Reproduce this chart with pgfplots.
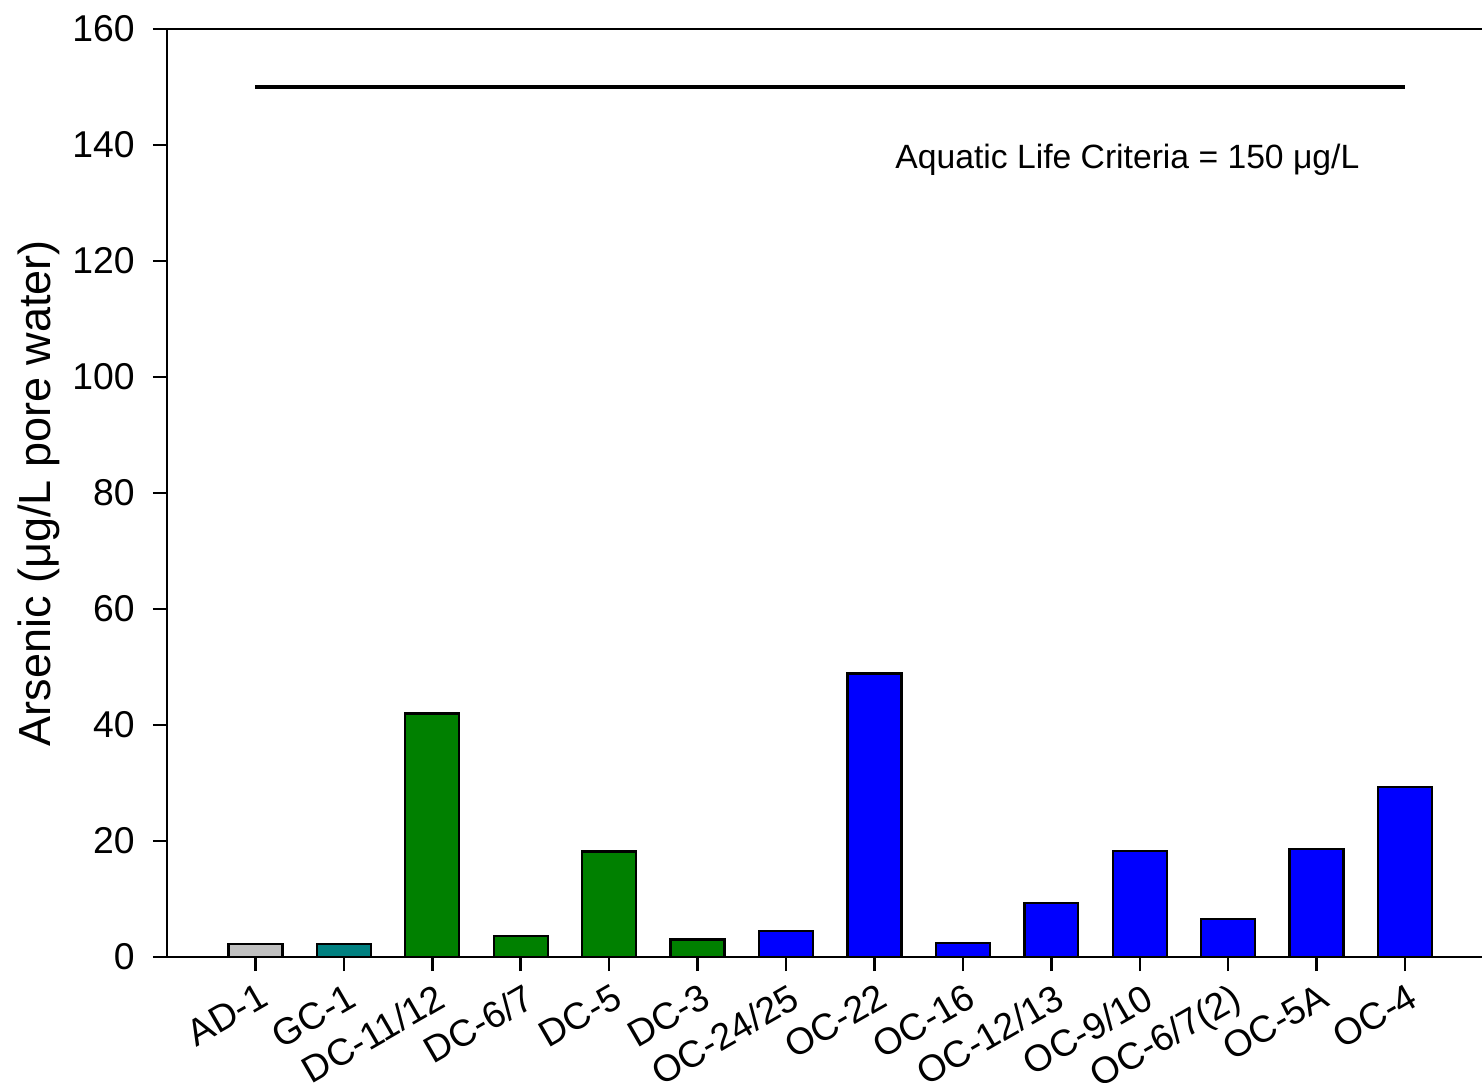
\documentclass[border=0pt]{standalone}
\usepackage{fontspec}
\setmainfont{Liberation Sans}
\usepackage{pgfplots}
\pgfplotsset{compat=1.18}
\definecolor{cgray}{HTML}{C0C0C0}
\definecolor{cteal}{HTML}{008080}
\definecolor{cgreen}{HTML}{008000}
\definecolor{cblue}{HTML}{0000FF}
\begin{document}
\begin{tikzpicture}
\begin{axis}[
  name=ax,
  scale only axis,
  width=394.5pt, height=278.4pt,
  xmin=-1, xmax=13.87,
  ymin=0, ymax=160,
  axis x line*=bottom,
  axis y line*=left,
  axis line style={line width=0.75pt},
  ytick={0,20,...,160},
  xtick={0,...,13},
  xticklabels={AD-1,GC-1,DC-11/12,DC-6/7,DC-5,DC-3,OC-24/25,OC-22,OC-16,OC-12/13,OC-9/10,OC-6/7(2),OC-5A,OC-4},
  tick align=outside,
  major tick length=4.2pt,
  tick style={line width=0.75pt, black},
  /pgf/number format/assume math mode=true,
  ticklabel style={font=\fontsize{11.2}{13}\selectfont},
  x tick label style={rotate=30, anchor=north east, inner sep=1pt, yshift=-2pt},
  y tick label style={xshift=-2pt},
  ylabel={Arsenic (μg/L pore water)},
  ylabel style={font=\fontsize{13.5}{15}\selectfont, yshift=-3pt},
  ybar, bar width=0.61, bar shift=0pt,
  clip=false,
]
\addplot[fill=cgray, draw=black, line width=0.7pt] coordinates {(0,2.3)};
\addplot[fill=cteal, draw=black, line width=0.7pt] coordinates {(1,2.3)};
\addplot[fill=cgreen, draw=black, line width=0.7pt] coordinates {(2,42.0) (3,3.6) (4,18.2) (5,3.0)};
\addplot[fill=cblue, draw=black, line width=0.7pt] coordinates {(6,4.5) (7,48.9) (8,2.4) (9,9.3) (10,18.3) (11,6.6) (12,18.6) (13,29.3)};
\addplot[sharp plot, black, line width=1.1pt] coordinates {(0,150) (13,150)};
\node[anchor=west, font=\fontsize{10.1}{12}\selectfont, inner sep=0pt] at (axis cs:7.23,137.4) {Aquatic Life Criteria = 150 μg/L};
\draw[line width=0.75pt] (rel axis cs:0,1) -- (rel axis cs:1,1);
\end{axis}
\pgfresetboundingbox
\path ([xshift=-50.1pt, yshift=-37.5pt]ax.south west) rectangle ([yshift=8.7pt]ax.north east);
\end{tikzpicture}
\end{document}
